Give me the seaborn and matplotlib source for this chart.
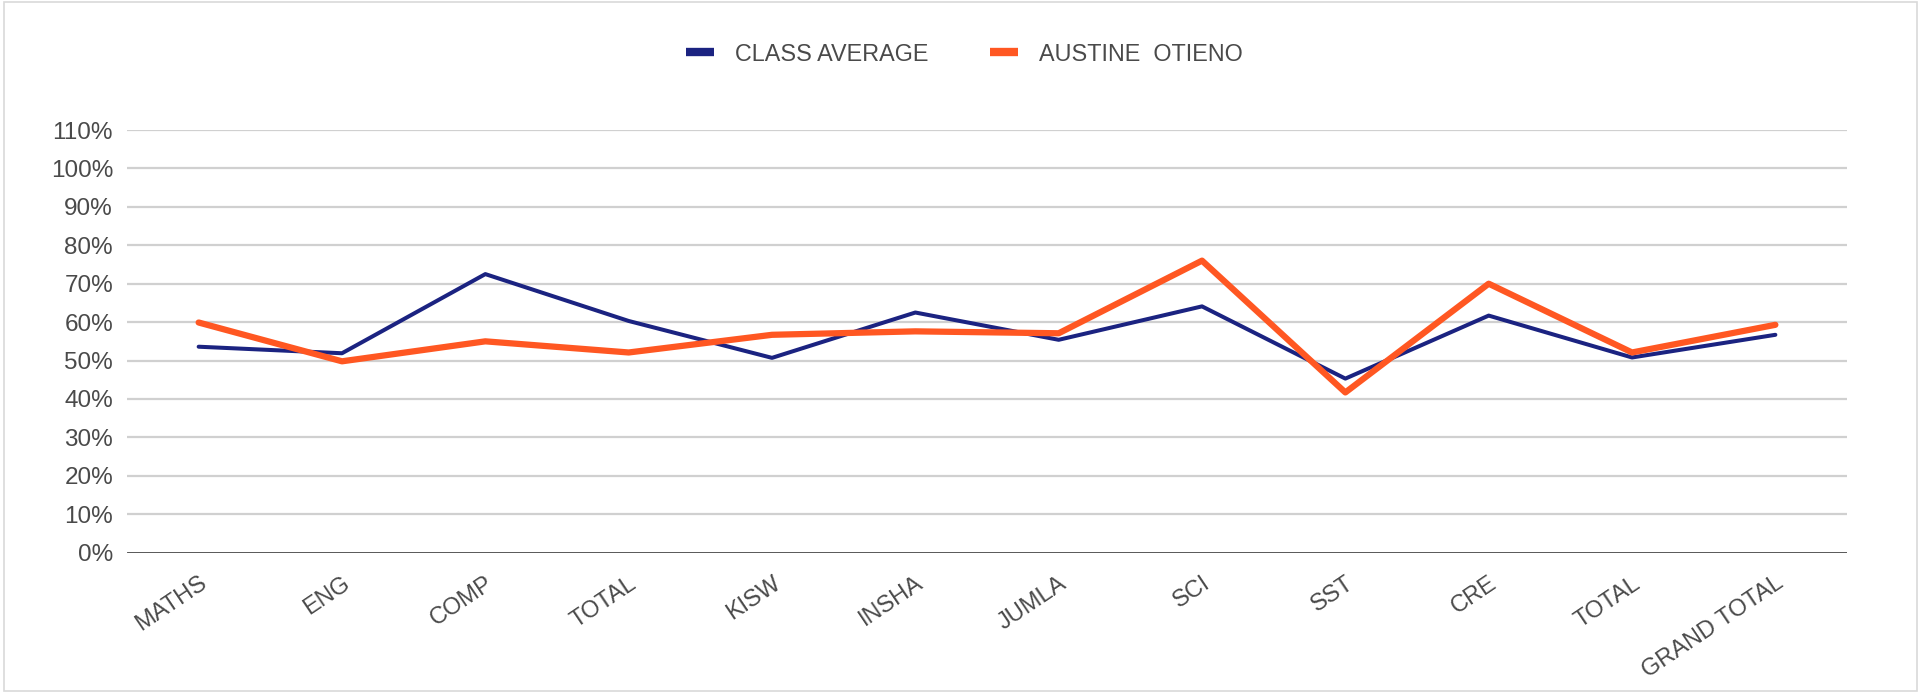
import numpy as np
import pandas as pd
import seaborn as sns
import matplotlib.pyplot as plt
from matplotlib.patches import Rectangle
from matplotlib.lines import Line2D

# datos
materias = ["MATHS", "ENG", "COMP", "TOTAL", "KISW", "INSHA", "JUMLA",
            "SCI", "SST", "CRE", "TOTAL", "GRAND TOTAL"]
promedio_clase = [0.536, 0.519, 0.725, 0.603, 0.507, 0.625, 0.554,
                  0.641, 0.453, 0.617, 0.508, 0.567]
austine = [0.599, 0.498, 0.550, 0.521, 0.567, 0.576, 0.571,
           0.760, 0.417, 0.700, 0.521, 0.593]

azul = "#1B2381"
naranja = "#FF5722"
gris_texto = "#4A4A4A"

sns.set_theme(style="white")
plt.rcParams["font.family"] = ["Liberation Sans", "DejaVu Sans"]

pos = np.arange(len(materias))
df = pd.DataFrame({"pos": np.concatenate([pos, pos]),
                   "valor": promedio_clase + austine,
                   "serie": ["CLASS AVERAGE"] * len(pos) + ["AUSTINE  OTIENO"] * len(pos)})

fig = plt.figure(figsize=(19.21, 6.93), dpi=100)
ax = fig.add_axes([0.0661, 0.2025, 0.8954, 0.6099])

sns.lineplot(data=df[df["serie"] == "CLASS AVERAGE"], x="pos", y="valor",
             color=azul, linewidth=2.9, ax=ax, sort=False)
sns.lineplot(data=df[df["serie"] == "AUSTINE  OTIENO"], x="pos", y="valor",
             color=naranja, linewidth=4.5, ax=ax, sort=False)

ax.set_xlim(-0.5, len(materias) - 0.5)
ax.set_ylim(0, 1.1)
yt = np.arange(0, 1.11, 0.1)
ax.set_yticks(yt)
ax.set_yticklabels([f"{int(round(v * 100))}%" for v in yt], fontsize=17.5, color=gris_texto)
ax.set_xticks(pos)
ax.set_xticklabels(materias, rotation=34, ha="right", rotation_mode="anchor",
                   fontsize=17, color=gris_texto)
ax.tick_params(axis="x", pad=14, length=0)
ax.tick_params(axis="y", pad=10, length=0)
ax.set_xlabel("")
ax.set_ylabel("")

for v in yt[1:]:
    ax.axhline(v, color="#D0D0D0", linewidth=1.6, zorder=0)
ax.axhline(0, color="#262626", linewidth=1.8, zorder=1)
for s in ax.spines.values():
    s.set_visible(False)

handles = [Line2D([0], [0], color=azul, linewidth=6, solid_capstyle="butt"),
           Line2D([0], [0], color=naranja, linewidth=6, solid_capstyle="butt")]
leg = fig.legend(handles, ["CLASS AVERAGE", "AUSTINE  OTIENO"], loc="center",
                 bbox_to_anchor=(0.502, 0.922), ncol=2, frameon=False, fontsize=16.8,
                 handlelength=1.2, columnspacing=2.6, handletextpad=0.9)
for t in leg.get_texts():
    t.set_color(gris_texto)

fig.patches.append(Rectangle((0.002, 0.003), 0.996, 0.994, transform=fig.transFigure,
                             fill=False, edgecolor="#D9D9D9", linewidth=1.2))

fig.savefig("out.png", dpi=100)
